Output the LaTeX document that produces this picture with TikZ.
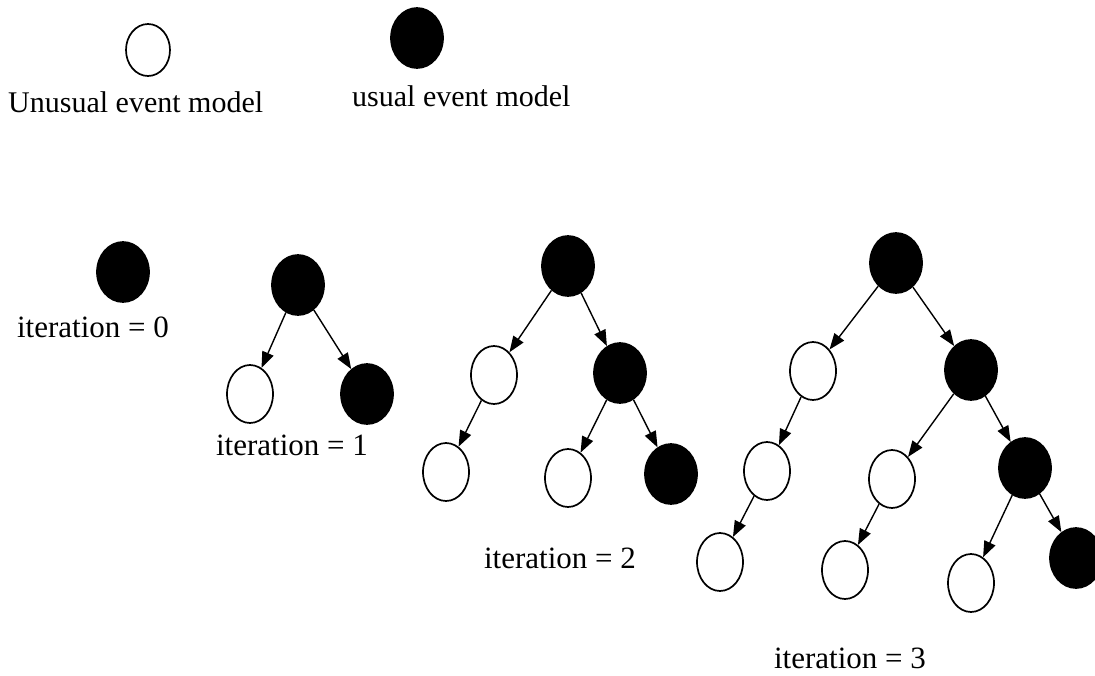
\documentclass[tikz,border=0pt]{standalone}
\usepackage{fontspec}
\setmainfont{Liberation Serif}
\usetikzlibrary{shapes.geometric,arrows.meta}
\begin{document}
\begin{tikzpicture}[x=1pt,y=-1pt,
  evt/.style={ellipse,draw=black,line width=1.7pt,inner sep=0pt},
  unusual/.style={evt,fill=white,minimum width=46pt,minimum height=58pt},
  usual/.style={evt,fill=black,minimum width=52pt,minimum height=60pt},
  link/.style={line width=1.4pt,-{Triangle[length=16pt,width=12pt]}},
  lbl/.style={anchor=base,inner sep=0pt,font=\fontsize{31}{36}\selectfont},
  keytext/.style={anchor=base west,inner sep=0pt,font=\fontsize{30}{36}\selectfont}]
\useasboundingbox (0,0) rectangle (1095,675);

% legend
\node[unusual,minimum width=44pt,minimum height=52pt] (keyU) at (148,50) {};
\node[usual] (keyN) at (417,38) {};
\node[keytext] (keyUt) at (8,112) {Unusual event model};
\node[keytext] (keyNt) at (352,106) {usual event model};

% iteration 0
\node[usual] (a0) at (123,272) {};
\node[lbl] (t0) at (93,337) {iteration = 0};

% iteration 1
\node[usual] (b0) at (298,285) {};
\node[unusual] (b1) at (250,394) {};
\node[usual] (b2) at (367,394) {};
\draw[link] (b0) -- (b1);
\draw[link] (b0) -- (b2);
\node[lbl] (t1) at (292,455) {iteration = 1};

% iteration 2
\node[usual] (c0) at (568,266) {};
\node[unusual] (c1) at (494,375) {};
\node[usual] (c2) at (620,373) {};
\node[unusual] (c3) at (446,472) {};
\node[unusual] (c4) at (568,478) {};
\node[usual] (c5) at (671,474) {};
\draw[link] (c0) -- (c1);
\draw[link] (c0) -- (c2);
\draw[link] (c1) -- (c3);
\draw[link] (c2) -- (c4);
\draw[link] (c2) -- (c5);
\node[lbl] (t2) at (560,568) {iteration = 2};

% iteration 3
\node[usual] (d0) at (896,263) {};
\node[unusual] (d1) at (813,371) {};
\node[usual] (d2) at (971,370) {};
\node[unusual] (d3) at (767,471) {};
\node[unusual] (d4) at (892,479) {};
\node[usual] (d5) at (1025,468) {};
\node[unusual] (d6) at (720,562) {};
\node[unusual] (d7) at (845,570) {};
\node[unusual] (d8) at (971,583) {};
\node[usual] (d9) at (1076,558) {};
\draw[link] (d0) -- (d1);
\draw[link] (d0) -- (d2);
\draw[link] (d1) -- (d3);
\draw[link] (d2) -- (d4);
\draw[link] (d2) -- (d5);
\draw[link] (d3) -- (d6);
\draw[link] (d4) -- (d7);
\draw[link] (d5) -- (d8);
\draw[link] (d5) -- (d9);
\node[lbl] (t3) at (850,668) {iteration = 3};
\end{tikzpicture}
\end{document}
